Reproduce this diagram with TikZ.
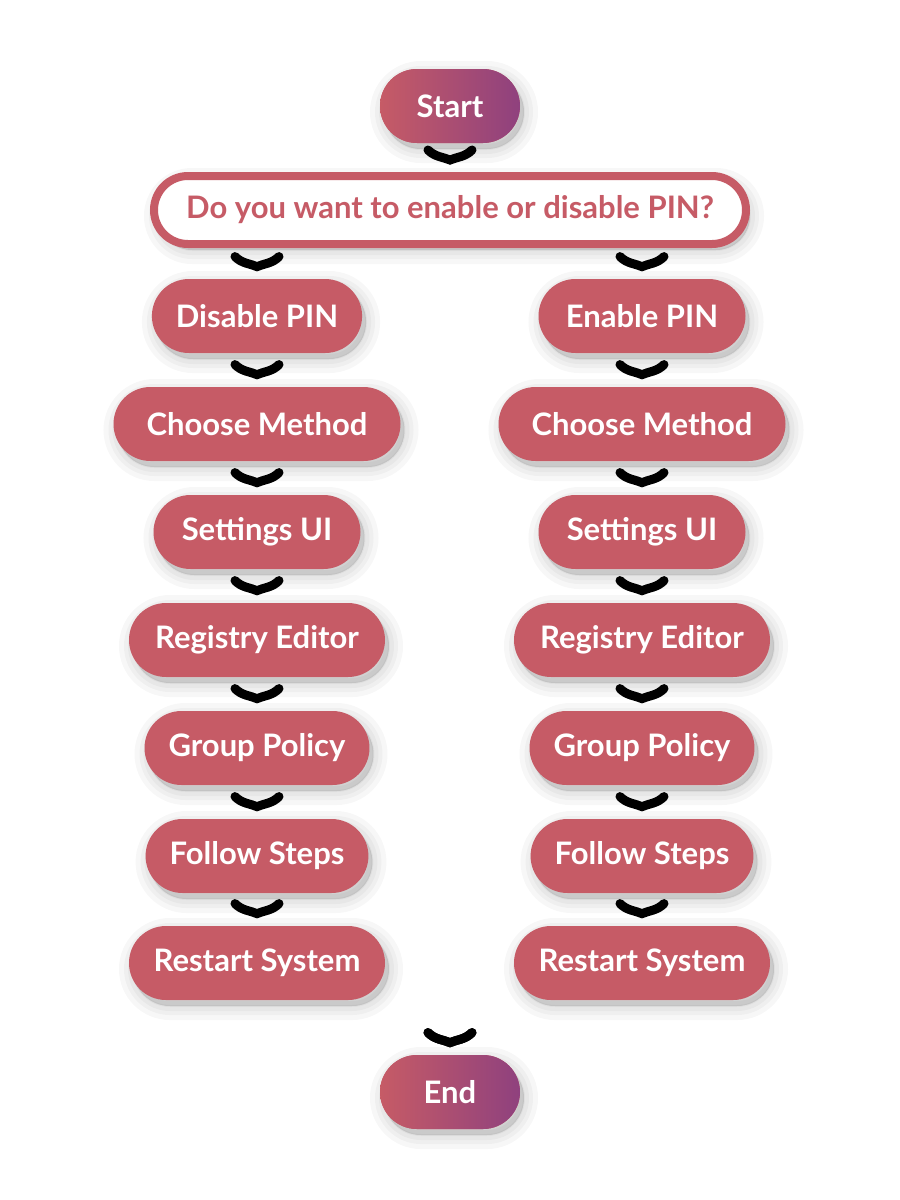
\documentclass[tikz,border=0pt]{standalone}
\usepackage{fontspec}
\setmainfont{Lato}
\definecolor{pinred}{HTML}{C65B66}
\definecolor{pinpurple}{HTML}{8F417E}
\begin{document}
\begin{tikzpicture}[x=0.5pt, y=-0.5pt]
\tikzset{every node/.style = {font=\fontsize{15.5}{18}\selectfont\bfseries},
  softshade/.style = {preaction={draw=black, fill=black, opacity=.03, line width=#1,
    transform canvas={shift={(2pt,-3pt)}}}},
  stepbox/.style = {fill=pinred, text=white, rounded corners=18.5pt, minimum height=37pt,
    inner xsep=12pt, softshade=14pt, softshade=9pt, softshade=5pt, softshade=1pt},
  termbox/.style = {stepbox, left color=pinred, right color=pinpurple, minimum width=70pt},
  askbox/.style = {stepbox, fill=white, draw=pinred, line width=4pt, text=pinred,
    rounded corners=17pt, minimum height=34pt, minimum width=296pt},
  chev/.pic = {\draw[line width=4.5pt, line cap=round, line join=miter]
    (-22,-22) .. controls (-15,-15) and (-7,-15) .. (0,-12)
    .. controls (7,-15) and (15,-15) .. (22,-22);}}
\fill[white] (0,0) rectangle (900,1200);
\useasboundingbox (0,0) rectangle (900,1200);

\node[termbox] (st) at (450, 106) {Start};
\node[askbox] (q) at (450, 210) {Do you want to enable or disable PIN?};

\node[stepbox, minimum width=103.5pt] (d1) at (257, 316) {Disable PIN};
\node[stepbox, minimum width=143.5pt] (d2) at (257, 424) {Choose Method};
\node[stepbox, minimum width=103.5pt] (d3) at (257, 532) {Settings UI};
\node[stepbox, minimum width=128pt] (d4) at (257, 640) {Registry Editor};
\node[stepbox, minimum width=110pt] (d5) at (257, 748) {Group Policy};
\node[stepbox, minimum width=110pt] (d6) at (257, 856) {Follow Steps};
\node[stepbox, minimum width=128pt] (d7) at (257, 963) {Restart System};

\node[stepbox, minimum width=103.5pt] (e1) at (642, 316) {Enable PIN};
\node[stepbox, minimum width=143.5pt] (e2) at (642, 424) {Choose Method};
\node[stepbox, minimum width=103.5pt] (e3) at (642, 532) {Settings UI};
\node[stepbox, minimum width=128pt] (e4) at (642, 640) {Registry Editor};
\node[stepbox, minimum width=110pt] (e5) at (642, 748) {Group Policy};
\node[stepbox, minimum width=110pt] (e6) at (642, 856) {Follow Steps};
\node[stepbox, minimum width=128pt] (e7) at (642, 963) {Restart System};

\node[termbox] (end) at (450, 1092) {End};

% chevron sits just above the target
\foreach \from/\to in {st/q, q/d1, q/e1, d1/d2, d2/d3, d3/d4, d4/d5, d5/d6, d6/d7,
  e1/e2, e2/e3, e3/e4, e4/e5, e5/e6, e6/e7, d7/end, e7/end}
  \path (\from.south) -- (\to.north) pic {chev};
\end{tikzpicture}
\end{document}
